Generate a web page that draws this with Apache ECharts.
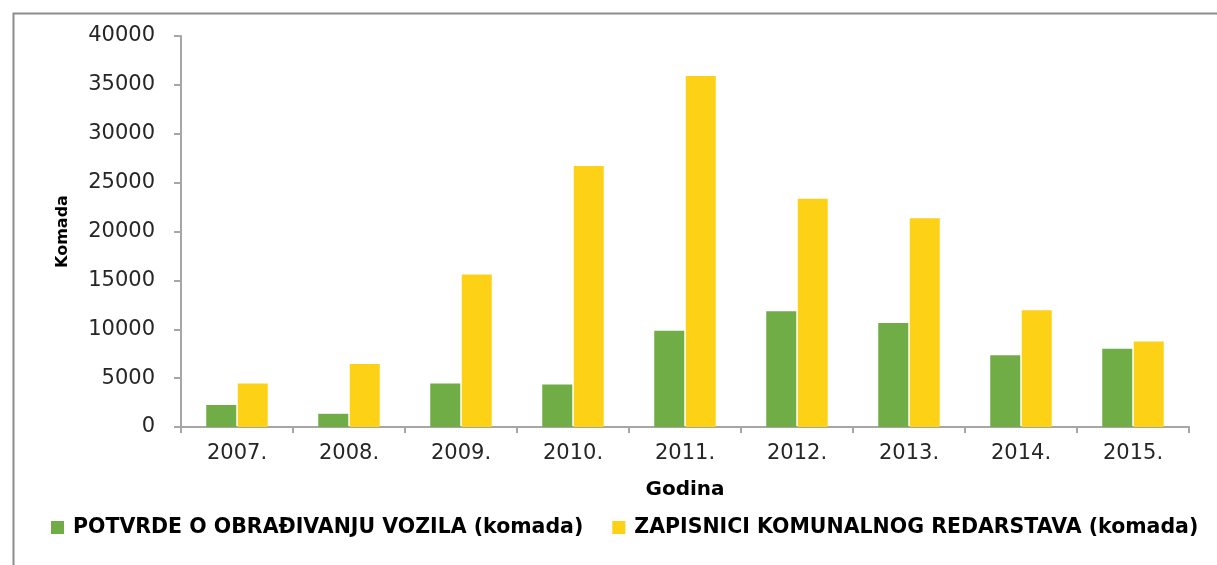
<!DOCTYPE html>
<html>
<head>
<meta charset="utf-8">
<script src="https://cdn.jsdelivr.net/npm/echarts@6/dist/echarts.min.js"></script>
<style>
  html, body { margin: 0; padding: 0; background: #fff; }
  #chart { width: 1217px; height: 565px; }
</style>
</head>
<body>
<div id="chart"></div>
<script>
// godine i vrijednosti (procjena s grafikona)
const years = ['2007.', '2008.', '2009.', '2010.', '2011.', '2012.', '2013.', '2014.', '2015.'];
const potvrde = [2250, 1350, 4450, 4350, 9850, 11850, 10650, 7350, 8000];
const zapisnici = [4450, 6450, 15600, 26700, 35900, 23350, 21350, 11950, 8750];
const seriesNames = ['POTVRDE O OBRAĐIVANJU VOZILA (komada)', 'ZAPISNICI KOMUNALNOG REDARSTAVA (komada)'];

const axisColor = '#A6A6A6';
const font = 'DejaVu Sans';

let myChart = echarts.init(document.getElementById('chart'));

let option = {
  animation: false,
  color: ['#70AD47', '#FCD116'],
  graphic: [
    {
      type: 'rect',
      left: 11,
      top: 11,
      shape: { width: 1300, height: 700 },
      style: { fill: 'none', stroke: '#8c8c8c', lineWidth: 2 },
      silent: true
    }
  ],
  grid: {
    left: 181,
    right: 28,
    top: 36,
    bottom: 138
  },
  legend: {
    data: seriesNames,
    left: 51,
    top: 517,
    padding: 0,
    itemWidth: 13,
    itemHeight: 13,
    itemGap: 29,
    icon: 'rect',
    textStyle: {
      fontFamily: font,
      fontWeight: 'bold',
      fontSize: 20.5,
      color: '#000',
      padding: [0, 0, 0, 4]
    }
  },
  xAxis: {
    type: 'category',
    data: years,
    name: 'Godina',
    nameLocation: 'middle',
    nameGap: 53,
    nameTextStyle: { fontFamily: font, fontWeight: 'bold', fontSize: 20, color: '#000' },
    axisLine: { lineStyle: { color: axisColor, width: 2 } },
    axisTick: { show: true, length: 6, lineStyle: { color: axisColor, width: 2 } },
    axisLabel: { fontFamily: font, fontSize: 21, color: '#262626', margin: 16 }
  },
  yAxis: {
    type: 'value',
    min: 0,
    max: 40000,
    interval: 5000,
    name: 'Komada',
    nameLocation: 'middle',
    nameGap: 110,
    nameTextStyle: { fontFamily: font, fontWeight: 'bold', fontSize: 16, color: '#000' },
    axisLine: { show: true, lineStyle: { color: axisColor, width: 2 } },
    axisTick: { show: true, length: 7, lineStyle: { color: axisColor, width: 2 } },
    axisLabel: {
      fontFamily: font,
      fontSize: 21,
      color: '#262626',
      margin: 26,
      formatter: function(v) {
        return String(v);
      }
    },
    splitLine: { show: false }
  },
  series: [
    {
      name: seriesNames[0],
      type: 'bar',
      data: potvrde,
      barWidth: 30,
      barGap: '5%'
    },
    {
      name: seriesNames[1],
      type: 'bar',
      data: zapisnici,
      barWidth: 30,
      barGap: '5%'
    }
  ]
};
myChart.setOption(option);
</script>
</body>
</html>
